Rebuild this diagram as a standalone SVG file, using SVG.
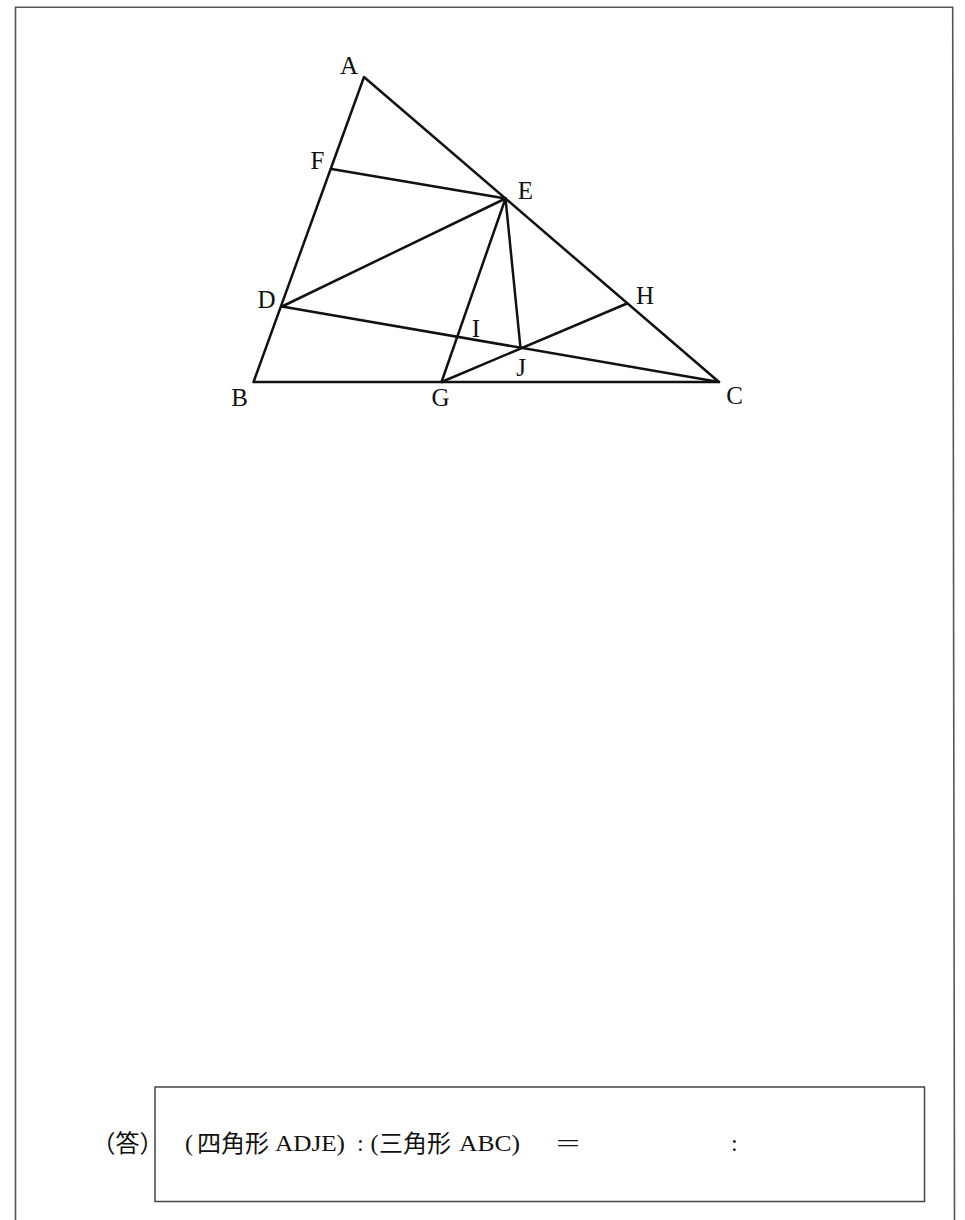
<svg xmlns="http://www.w3.org/2000/svg" width="965" height="1220" viewBox="0 0 965 1220">
<style>
.lbl{font-family:"Liberation Serif","Times New Roman",serif;font-size:25px;fill:#111;text-anchor:middle}
.ln{stroke:#111;stroke-width:2.5;fill:none;stroke-linecap:round;stroke-linejoin:round}
.lat{font-family:"Liberation Serif","Times New Roman",serif;font-size:24px;fill:#111}
.cjk{font-family:"Noto Sans CJK JP","Noto Sans CJK SC",sans-serif;font-size:24px;fill:#111}
</style>
<rect width="965" height="1220" fill="#fff"/>
<g id="border">
<path d="M15.5,1220 L15.5,7.3 L952.7,7.3 L954.5,1220" fill="none" stroke="#555" stroke-width="1.6"/>
</g>
<g id="connectors">
<polygon class="ln" points="364,77 253.5,382 719,382"/>
<line class="ln" x1="331.5" y1="169" x2="505.5" y2="198.5"/>
<line class="ln" x1="282" y1="306.5" x2="505.5" y2="198.5"/>
<line class="ln" x1="282" y1="306.5" x2="719" y2="382"/>
<line class="ln" x1="505.5" y1="198.5" x2="441.5" y2="382"/>
<line class="ln" x1="505.5" y1="198.5" x2="520.5" y2="348"/>
<line class="ln" x1="441.5" y1="382" x2="627" y2="303.5"/>
</g>
<g id="node-A"><text class="lbl" x="349" y="73.5">A</text></g>
<g id="node-F"><text class="lbl" x="317.5" y="168.5">F</text></g>
<g id="node-E"><text class="lbl" x="525.5" y="198.5">E</text></g>
<g id="node-D"><text class="lbl" x="266.5" y="307.5">D</text></g>
<g id="node-H"><text class="lbl" x="645" y="303.5">H</text></g>
<g id="node-I"><text class="lbl" x="476" y="337">I</text></g>
<g id="node-J"><text class="lbl" x="521" y="376">J</text></g>
<g id="node-B"><text class="lbl" x="239.5" y="405.5">B</text></g>
<g id="node-G"><text class="lbl" x="440.5" y="406">G</text></g>
<g id="node-C"><text class="lbl" x="734.5" y="403.5">C</text></g>
<g id="answer-label"><text class="cjk" x="127.5" y="1152" text-anchor="middle" font-size="25">（答）</text></g>
<g id="answer-box">
<rect x="155" y="1087" width="769.5" height="114.5" fill="none" stroke="#444" stroke-width="1.5"/>
<text class="lat" x="185" y="1151">(</text>
<text class="cjk" x="197" y="1152" font-size="24.5">四角形</text>
<text class="lat" x="275" y="1151" textLength="70" lengthAdjust="spacingAndGlyphs">ADJE)</text>
<text class="lat" x="357" y="1151">:</text>
<text class="lat" x="370.5" y="1151">(</text>
<text class="cjk" x="379" y="1152" font-size="24.5">三角形</text>
<text class="lat" x="459" y="1151" textLength="61" lengthAdjust="spacingAndGlyphs">ABC)</text>
<text class="lat" x="556" y="1151" textLength="24" lengthAdjust="spacingAndGlyphs">=</text>
<text class="lat" x="731" y="1151">:</text>
</g>
</svg>
